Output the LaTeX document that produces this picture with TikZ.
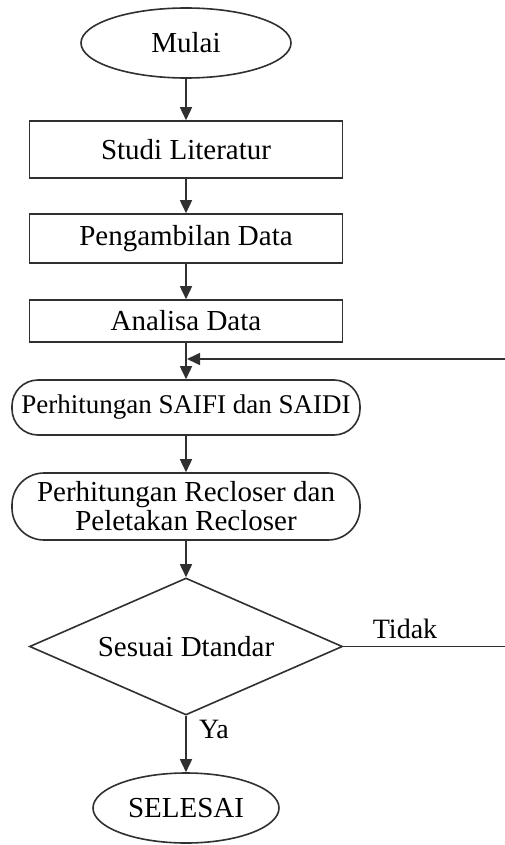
\documentclass[tikz,border=0pt]{standalone}
\usepackage{fontspec}
\setmainfont{Liberation Serif}
\usetikzlibrary{shapes.geometric,arrows.meta}
\definecolor{ln}{HTML}{303030}
\begin{document}
\begin{tikzpicture}[x=1pt,y=-1pt,
  base/.style={draw=ln, line width=1.6pt, font=\fontsize{29}{29}\selectfont, inner sep=0pt, align=center, text=black},
  procbox/.style={base, rectangle, minimum width=313pt},
  term/.style={base, ellipse},
  roundbox/.style={base, rectangle, rounded corners=26pt, minimum width=348pt},
  decision/.style={base, diamond, aspect=2.28, minimum width=313pt, minimum height=137pt},
  lbl/.style={font=\fontsize{28}{28}\selectfont, inner sep=0pt, text=black},
  arr/.style={draw=ln, line width=1.6pt, -{Triangle[length=13pt,width=12pt]}}
]
\useasboundingbox (0,0) rectangle (504,845);
\fill[white] (0,0) rectangle (504,845);
\node[term, minimum width=210pt, minimum height=70pt] (mulai) at (186,43) {Mulai};
\node[procbox, minimum height=57pt] (studi) at (186,149.5) {Studi Literatur};
\node[procbox, minimum height=49pt] (ambil) at (186,238.5) {Pengambilan Data};
\node[procbox, minimum height=42pt] (analisa) at (186,321) {Analisa Data};
\node[roundbox, minimum height=55pt, font=\fontsize{27}{27}\selectfont] (saifi) at (186,407.5) {Perhitungan SAIFI dan SAIDI};
\node[roundbox, minimum height=67pt, rounded corners=32pt] (recl) at (186,506.5) {Perhitungan Recloser dan\\Peletakan Recloser};
\node[decision] (dec) at (186,646.5) {Sesuai Dtandar};
\node[term, minimum width=186pt, minimum height=70pt] (selesai) at (186,808) {SELESAI};
\node[lbl] (ya) at (214,729) {Ya};
\node[lbl] (tidak) at (405,629) {Tidak};
\coordinate (join) at (187,359);
\coordinate (fbx) at (510,646.5);
\draw[arr] (mulai.south) -- (studi.north);
\draw[arr] (studi.south) -- (ambil.north);
\draw[arr] (ambil.south) -- (analisa.north);
\draw[arr] (analisa.south) -- (saifi.north);
\draw[arr] (saifi.south) -- (recl.north);
\draw[arr] (recl.south) -- (dec.north);
\draw[arr] (dec.south) -- (selesai.north);
\draw[arr] (dec.east) -- (fbx) |- (join);
\end{tikzpicture}
\end{document}
